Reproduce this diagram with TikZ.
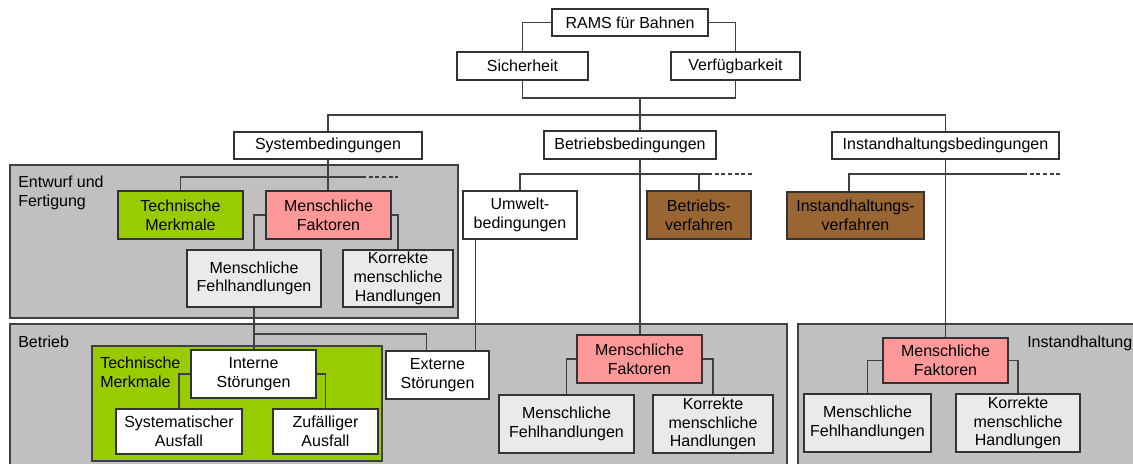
\documentclass[tikz,border=0pt]{standalone}
\usepackage{fontspec}
\setmainfont{Liberation Sans}
\begin{document}
\begin{tikzpicture}[
        x=0.75pt, y=-0.75pt,
        group/.style={draw=black!75, line width=0.8pt, fill=groupgrey},
        group_label/.style={anchor=north west, inner sep=0pt, align=left, font=\fontsize{12}{14}\selectfont},
        box/.style={draw=black!80, line width=0.8pt, align=center, inner sep=1pt, font=\fontsize{12}{14}\selectfont},
        dims/.style 2 args={minimum width=#1*0.75pt, minimum height=#2*0.75pt},
        conn/.style={draw=black!75, line width=0.8pt},
        open_conn/.style={conn, dash pattern=on 3pt off 2pt}
    ]

        \definecolor{groupgrey}{HTML}{C0C0C0}
        \definecolor{boxgrey}{HTML}{EAEAEA}
        \definecolor{techgreen}{HTML}{99CC00}
        \definecolor{humanpink}{HTML}{FF9999}
        \definecolor{procbrown}{HTML}{996633}

        \useasboundingbox (0, 0) rectangle (1133, 464);
        \clip (0, 0) rectangle (1133, 464);

        % Gruppen
        \draw[group] (10, 165) rectangle (458, 318);
        \node[group_label] (entwurf) at (18, 175.5) {Entwurf und\\Fertigung};

        \draw[group] (10, 324) rectangle (787, 480);
        \node[group_label] (betrieb) at (18, 335.5) {Betrieb};

        \draw[group] (798, 324) rectangle (1150, 480);
        \node[group_label] (instand) at (1027, 335.5) {Instandhaltung};

        \draw[group, fill=techgreen] (92, 346) rectangle (382, 461);
        \node[group_label] (technik) at (100, 356.5) {Technische\\Merkmale};

        % oberste Ebenen
        \node[box, fill=white, dims={156}{27}] (rams) at (630, 22.5) {RAMS für Bahnen};
        \node[box, fill=white, dims={131}{28}] (sich) at (522.5, 66) {Sicherheit};
        \node[box, fill=white, dims={129}{28}] (verf) at (735.5, 66) {Verfügbarkeit};

        \node[box, fill=white, dims={188}{27}] (sysb) at (328, 145.5) {Systembedingungen};
        \node[box, fill=white, dims={172}{28}] (betb) at (630, 145) {Betriebsbedingungen};
        \node[box, fill=white, dims={227}{27}] (insb) at (945.5, 145.5) {Instandhaltungsbedingungen};

        % Entwurf und Fertigung
        \node[box, fill=techgreen, dims={125}{48}] (tech1) at (180.5, 215) {Technische\\Merkmale};
        \node[box, fill=humanpink, dims={125}{48}] (mf1) at (328.5, 215) {Menschliche\\Faktoren};
        \node[box, fill=boxgrey, dims={134}{57}] (mfh1) at (254, 278.5) {Menschliche\\Fehlhandlungen};
        \node[box, fill=boxgrey, dims={110}{57}] (kor1) at (398, 278.5) {Korrekte\\menschliche\\Handlungen};

        \node[box, fill=white, dims={114}{48}] (umw) at (520, 215) {Umwelt-\\bedingungen};
        \node[box, fill=procbrown, dims={104}{48}] (brv) at (699, 215) {Betriebs-\\verfahren};
        \node[box, fill=procbrown, dims={137}{47}] (ihv) at (855.5, 215.5) {Instandhaltungs-\\verfahren};

        % Betrieb
        \node[box, fill=white, dims={125}{48}] (int) at (253.5, 374) {Interne\\Störungen};
        \node[box, fill=white, dims={126}{45}] (sys) at (179, 431.5) {Systematischer\\Ausfall};
        \node[box, fill=white, dims={105}{45}] (zuf) at (325.5, 431.5) {Zufälliger\\Ausfall};
        \node[box, fill=white, dims={103}{48}] (ext) at (437.5, 375) {Externe\\Störungen};

        \node[box, fill=humanpink, dims={125}{48}] (mf2) at (639.5, 359) {Menschliche\\Faktoren};
        \node[box, fill=boxgrey, dims={135}{58}] (mfh2) at (566.5, 424) {Menschliche\\Fehlhandlungen};
        \node[box, fill=boxgrey, dims={120}{58}] (kor2) at (713, 424) {Korrekte\\menschliche\\Handlungen};

        % Instandhaltung
        \node[box, fill=humanpink, dims={125}{45}] (mf3) at (945.5, 360.5) {Menschliche\\Faktoren};
        \node[box, fill=boxgrey, dims={127}{58}] (mfh3) at (867.5, 423) {Menschliche\\Fehlhandlungen};
        \node[box, fill=boxgrey, dims={124}{58}] (kor3) at (1018, 423) {Korrekte\\menschliche\\Handlungen};

        % Verbindungen
        \coordinate (j0) at (640, 98);
        \coordinate (j1) at (640, 115);
        \coordinate (j2) at (362, 177);
        \coordinate (j2e) at (398, 177);
        \coordinate (j3) at (254, 334);
        \coordinate (j4) at (708, 174);
        \coordinate (j4e) at (753, 174);
        \coordinate (j5) at (1023, 174);
        \coordinate (j5e) at (1061, 174);
        \coordinate (u1) at ([xshift=9.75pt]umw.south west);
        \coordinate (i1) at ([xshift=-4.9pt]ihv.north);

        \draw[conn] (rams.west) -| (sich.north);
        \draw[conn] (rams.east) -| (verf.north);
        \draw[conn] (sich.south) |- (j0) -| (verf.south);
        \draw[conn] (j0) -- (betb.north -| j0);
        \draw[conn] (sysb.north) |- (j1) -| (insb.north);

        \draw[conn] (sysb.south) -- (sysb.south |- mf1.north);
        \draw[conn] (tech1.north) |- (j2);
        \draw[open_conn] (j2) -- (j2e);
        \draw[conn] (mf1.west) -| (mfh1.north);
        \draw[conn] (mf1.east) -| (kor1.north);

        \draw[conn] (umw.north) |- (j4);
        \draw[open_conn] (j4) -- (j4e);
        \draw[conn] (brv.north) -- (brv.north |- j4);
        \draw[conn] (betb.south -| j0) -- (mf2.north -| j0);
        \draw[conn] (u1) -- (u1 |- ext.north);

        \draw[conn] (i1) |- (j5);
        \draw[open_conn] (j5) -- (j5e);
        \draw[conn] (insb.south) -- (insb.south |- mf3.north);

        \draw[conn] (mfh1.south) -- (mfh1.south |- int.north);
        \draw[conn] (j3) -| ([xshift=-8.6pt]ext.north);
        \draw[conn] (int.west) -| (sys.north);
        \draw[conn] (int.east) -| (zuf.north);

        \draw[conn] (mf2.west) -| (mfh2.north);
        \draw[conn] (mf2.east) -| (kor2.north);
        \draw[conn] (mf3.west) -| (mfh3.north);
        \draw[conn] (mf3.east) -| (kor3.north);
    \end{tikzpicture}
\end{document}
